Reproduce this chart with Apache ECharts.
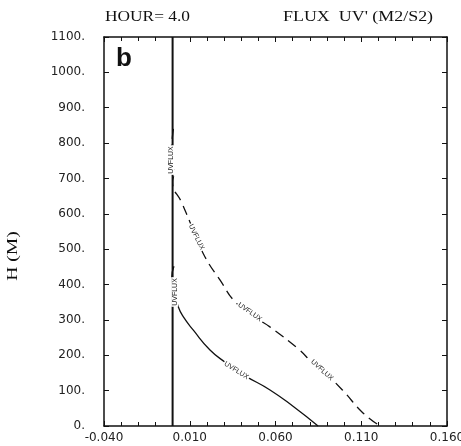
<!DOCTYPE html>
<html><head><meta charset="utf-8">
<script src="https://cdn.jsdelivr.net/npm/echarts@6/dist/echarts.min.js"></script>
<style>html,body{margin:0;padding:0;background:#fff}#c{width:461px;height:446px}</style>
</head><body><div id="c"></div>
<script>
// Data (height H in M, flux UV' in M2/S2)
const xTicks = [-0.04, 0.01, 0.06, 0.11, 0.16];
const yTicks = [0, 100, 200, 300, 400, 500, 600, 700, 800, 900, 1000, 1100];
const zeroLineX = [0, 0];
const zeroLineH = [0, 1100];
const solidX = [0.0008, -0.0005, 0.0012, 0.0033, 0.0062, 0.0121, 0.0218, 0.0315, 0.0372, 0.0432, 0.0568, 0.0704, 0.0848];
const solidH = [452, 420, 379, 337, 309, 271, 215, 177, 157, 139, 102, 55, 0];
const dashedX = [0.0005, -0.001, 0.0008, 0.0, 0.0055, 0.0101, 0.0139, 0.0189, 0.0276, 0.037, 0.0451, 0.0506, 0.0565, 0.074, 0.0816, 0.0871, 0.099, 0.111, 0.121];
const dashedH = [840, 752, 715, 690, 630, 577, 534, 478, 413, 348, 322, 300, 281, 215, 178, 158, 102, 37, 0];
const solidLabelIdx = [2, 8];
const dashedLabelIdx = [1, 6, 10, 15];
const seriesLabel = 'UVFLUX';

function pts(xs, hs, labelIdx, rotations) {
  return xs.map((x, i) => {
    const k = labelIdx.indexOf(i);
    if (k < 0) return { value: [x, hs[i]], symbolSize: 0 };
    return { value: [x, hs[i]], symbolSize: 0, label: { show: true, formatter: seriesLabel, rotate: rotations[k],
      fontSize: 7, fontFamily: 'Liberation Sans', color: '#222', position: 'inside', backgroundColor: '#fff', padding: [0, 1] } };
  });
}

const chart = echarts.init(document.getElementById('c'));
const fmtX = v => (Math.round(v * 1000) / 1000).toFixed(3);
const axisLine = { show: true, onZero: false, lineStyle: { color: '#111', width: 1.5 } };
const xTick = { inside: true, length: 5, lineStyle: { color: '#111' } };
const xMinor = { show: true, splitNumber: 5, length: 4, lineStyle: { color: '#111' } };
const yTick = { inside: true, length: 5, lineStyle: { color: '#111' } };
chart.setOption({
  animation: false,
  backgroundColor: '#fff',
  grid: { left: 104, right: 14, top: 37, bottom: 20, containLabel: false, outerBoundsMode: 'none' },
  xAxis: [{
    type: 'value', min: xTicks[0], max: xTicks[xTicks.length - 1], interval: 0.05,
    axisLine, axisTick: xTick, minorTick: xMinor, splitLine: { show: false },
    axisLabel: { formatter: fmtX, fontFamily: 'DejaVu Sans', fontSize: 12, color: '#222', margin: 6 }
  }, {
    type: 'value', position: 'top', min: xTicks[0], max: xTicks[xTicks.length - 1], interval: 0.05,
    axisLine, axisTick: xTick, minorTick: xMinor, splitLine: { show: false }, axisLabel: { show: false }
  }],
  yAxis: [{
    type: 'value', min: yTicks[0], max: yTicks[yTicks.length - 1], interval: 100,
    axisLine, axisTick: yTick, splitLine: { show: false },
    axisLabel: { formatter: v => v + '.', fontFamily: 'DejaVu Sans', fontSize: 12, color: '#222', margin: 19, padding: [6, 0, 0, 0] }
  }, {
    type: 'value', position: 'right', min: yTicks[0], max: yTicks[yTicks.length - 1], interval: 100,
    axisLine, axisTick: yTick, splitLine: { show: false }, axisLabel: { show: false }
  }],
  graphic: [
    { type: 'text', x: 105, y: 17, scaleX: 1.24, style: { text: 'HOUR= 4.0', font: '14px "Liberation Serif"', fill: '#111', verticalAlign: 'middle' } },
    { type: 'text', x: 283, y: 17, scaleX: 1.28, style: { text: "FLUX  UV' (M2/S2)", font: '14px "Liberation Serif"', fill: '#111', verticalAlign: 'middle' } },
    { type: 'text', x: 116, y: 46, style: { text: 'b', font: 'bold 26px "Liberation Sans"', fill: '#111' } },
    { type: 'text', x: 13, y: 256, rotation: Math.PI / 2, scaleX: 1.4, style: { text: 'H (M)', font: '14px "Liberation Serif"', fill: '#111', align: 'center', verticalAlign: 'middle' } }
  ],
  series: [
    { type: 'line', symbol: 'none', silent: true, data: zeroLineX.map((x, i) => [x, zeroLineH[i]]),
      lineStyle: { color: '#111', width: 2 } },
    { type: 'line', symbol: 'circle', showSymbol: true, showAllSymbol: true, smooth: 0.5, silent: true,
      data: pts(solidX, solidH, solidLabelIdx, [90, -32]),
      lineStyle: { color: '#111', width: 1.3 } },
    { type: 'line', symbol: 'circle', showSymbol: true, showAllSymbol: true, smooth: 0.5, silent: true,
      data: pts(dashedX, dashedH, dashedLabelIdx, [90, -64, -35, -42]),
      lineStyle: { color: '#111', width: 1.3, type: [10, 6] } }
  ]
});
</script></body></html>
